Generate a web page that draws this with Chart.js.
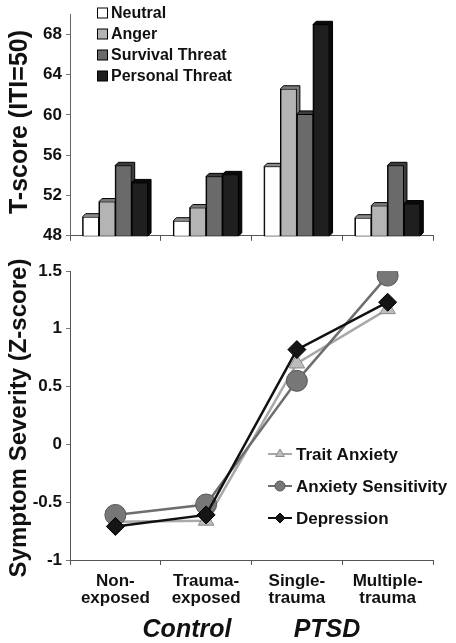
<!DOCTYPE html>
<html>
<head>
<meta charset="utf-8">
<script src="https://cdn.jsdelivr.net/npm/chart.js@4/dist/chart.umd.min.js"></script>
<style>
  html,body{margin:0;padding:0;background:#fff;}
  #wrap{position:relative;width:456px;height:643px;background:#fff;overflow:hidden;font-family:"Liberation Sans",Arial,sans-serif;}
  canvas{position:absolute;left:0;}
  .ytitle{position:absolute;font-weight:bold;color:#111;white-space:nowrap;transform:translate(-50%,-50%) rotate(-90deg);}
  .grp{position:absolute;font-weight:bold;font-style:italic;font-size:25px;color:#111;white-space:nowrap;transform:translate(-50%,-50%);}
</style>
</head>
<body>
<div id="wrap">
  <canvas id="topChart" width="456" height="250" style="top:0"></canvas>
  <canvas id="botChart" width="456" height="393" style="top:250px"></canvas>
  <div class="ytitle" style="left:18px;top:122px;font-size:25px">T-score (ITI=50)</div>
  <div class="ytitle" style="left:18px;top:418px;font-size:24px">Symptom Severity (Z-score)</div>
  <div class="grp" style="left:187px;top:628px">Control</div>
  <div class="grp" style="left:327px;top:628px">PTSD</div>
</div>
<script>
// ---- data ----
const groups = [["Non-", "exposed"], ["Trauma-", "exposed"], ["Single-", "trauma"], ["Multiple-", "trauma"]];
const emotionLabels = ["Neutral", "Anger", "Survival Threat", "Personal Threat"];
const neutral = [49.9, 49.5, 54.9, 49.8];
const anger = [51.4, 50.8, 62.6, 51.0];
const survivalThreat = [55.0, 53.9, 60.1, 55.0];
const personalThreat = [53.3, 54.1, 69.0, 51.2];
const tScoreTicks = [48, 52, 56, 60, 64, 68];

const symptomLabels = ["Trait Anxiety", "Anxiety Sensitivity", "Depression"];
const traitAnxiety = [-0.67, -0.66, 0.70, 1.17];
const anxietySensitivity = [-0.61, -0.52, 0.55, 1.46];
const depression = [-0.71, -0.61, 0.82, 1.23];
const zScoreTicks = [-1, -0.5, 0, 0.5, 1, 1.5];

// ---- styles ----
const FONT = '"Liberation Sans", Arial, sans-serif';
const barFill = ['#ffffff', '#b4b4b4', '#6a6a6a', '#1f1f1f'];
const barDepth = ['#8a8a8a', '#7a7a7a', '#3c3c3c', '#0a0a0a'];

const bar3d = {
  id: 'bar3d',
  beforeDatasetsDraw(chart) {
    const ctx = chart.ctx, d = 3;
    const bottom = chart.chartArea.bottom;
    chart.data.datasets.forEach((ds, i) => {
      const meta = chart.getDatasetMeta(i);
      meta.data.forEach(el => {
        const p = el.getProps(['x', 'y', 'base', 'width'], true);
        const base = Math.min(p.base, bottom);
        const x0 = p.x - p.width / 2, x1 = p.x + p.width / 2;
        ctx.save();
        ctx.fillStyle = barDepth[i];
        ctx.strokeStyle = '#000';
        ctx.lineWidth = 1;
        ctx.beginPath();
        ctx.moveTo(x0, p.y);
        ctx.lineTo(x0 + d, p.y - d);
        ctx.lineTo(x1 + d, p.y - d);
        ctx.lineTo(x1 + d, base - d);
        ctx.lineTo(x1, base);
        ctx.lineTo(x0, base);
        ctx.closePath();
        ctx.fill();
        ctx.stroke();
        ctx.restore();
      });
    });
  }
};

const barLegend = {
  id: 'barLegend',
  afterDraw(chart) {
    const ctx = chart.ctx;
    ctx.save();
    ctx.font = 'bold 16px ' + FONT;
    ctx.textBaseline = 'middle';
    chart.data.datasets.forEach((ds, i) => {
      const y = 13 + i * 21;
      ctx.fillStyle = ds.backgroundColor;
      ctx.strokeStyle = '#000';
      ctx.lineWidth = 1;
      ctx.fillRect(97.5, y - 5, 10, 10);
      ctx.strokeRect(97.5, y - 5, 10, 10);
      ctx.fillStyle = '#111';
      ctx.fillText(ds.label, 111, y + 1);
    });
    ctx.restore();
  }
};

const lineLegend = {
  id: 'lineLegend',
  afterDraw(chart) {
    const ctx = chart.ctx;
    ctx.save();
    ctx.font = 'bold 17px ' + FONT;
    ctx.textBaseline = 'middle';
    chart.data.datasets.forEach((ds, i) => {
      const y = 204 + i * 32;
      ctx.strokeStyle = ds.borderColor;
      ctx.lineWidth = 2;
      ctx.beginPath();
      ctx.moveTo(268, y);
      ctx.lineTo(292, y);
      ctx.stroke();
      ctx.fillStyle = ds.pointBackgroundColor;
      ctx.strokeStyle = ds.pointBorderColor;
      ctx.lineWidth = 1;
      Chart.helpers.drawPoint(ctx, {pointStyle: ds.pointStyle, radius: 5, rotation: 0, borderWidth: 1}, 280, y);
      ctx.fillStyle = '#111';
      ctx.fillText(ds.label, 296, y + 1);
    });
    ctx.restore();
  }
};

const barSeries = [neutral, anger, survivalThreat, personalThreat];

new Chart(document.getElementById('topChart'), {
  type: 'bar',
  data: {
    labels: groups,
    datasets: barSeries.map((vals, i) => ({
      label: emotionLabels[i],
      data: vals,
      backgroundColor: barFill[i],
      borderColor: '#000',
      borderWidth: 1,
      borderSkipped: false,
      categoryPercentage: 0.72,
      barPercentage: 1.0
    }))
  },
  options: {
    responsive: false,
    animation: false,
    layout: {padding: {top: 12, right: 23, left: 0, bottom: 0}},
    plugins: {legend: {display: false}, tooltip: {enabled: false}},
    scales: {
      x: {
        ticks: {display: false},
        grid: {drawOnChartArea: false, offset: true, tickLength: 5, color: '#555'},
        border: {display: true, color: '#555', width: 1},
        afterFit(s) { s.height = 12; }
      },
      y: {
        min: 48, max: 70,
        afterBuildTicks(s) { s.ticks = tScoreTicks.map(v => ({value: v})); },
        ticks: {color: '#111', font: {family: FONT, size: 17, weight: 'bold'}, padding: 4},
        grid: {drawOnChartArea: false, tickLength: 4, color: '#777'},
        border: {display: true, color: '#666', width: 1},
        afterFit(s) { s.width = 70; }
      }
    }
  },
  plugins: [bar3d, barLegend]
});

const lineSeries = [
  {label: symptomLabels[0], data: traitAnxiety, line: '#a9a9a9', fill: '#bcbcbc', edge: '#8a8a8a', style: 'triangle', r: 9, order: 3},
  {label: symptomLabels[1], data: anxietySensitivity, line: '#6e6e6e', fill: '#777777', edge: '#555555', style: 'circle', r: 10.5, order: 2},
  {label: symptomLabels[2], data: depression, line: '#111111', fill: '#151515', edge: '#000000', style: 'rectRot', r: 9, order: 1}
];

new Chart(document.getElementById('botChart'), {
  type: 'line',
  data: {
    labels: groups,
    datasets: lineSeries.map(s => ({
      label: s.label,
      data: s.data,
      borderColor: s.line,
      borderWidth: 2.5,
      pointStyle: s.style,
      pointRadius: s.r,
      pointBackgroundColor: s.fill,
      pointBorderColor: s.edge,
      pointBorderWidth: 1,
      tension: 0,
      order: s.order
    }))
  },
  options: {
    responsive: false,
    animation: false,
    layout: {padding: {top: 21, right: 23, left: 0, bottom: 0}},
    plugins: {legend: {display: false}, tooltip: {enabled: false}},
    scales: {
      x: {
        offset: true,
        ticks: {color: '#111', font: {family: FONT, size: 17, weight: 'bold', lineHeight: 1.0}, padding: 8, maxRotation: 0, autoSkip: false},
        grid: {drawOnChartArea: false, offset: true, tickLength: 5, color: '#555'},
        border: {display: true, color: '#555', width: 1},
        afterFit(s) { s.height = 83; }
      },
      y: {
        min: -1, max: 1.5,
        afterBuildTicks(s) { s.ticks = zScoreTicks.map(v => ({value: v})); },
        ticks: {color: '#111', font: {family: FONT, size: 17, weight: 'bold'}, padding: 4, callback: v => String(v)},
        grid: {drawOnChartArea: false, tickLength: 4, color: '#777'},
        border: {display: true, color: '#555', width: 1},
        afterFit(s) { s.width = 70; }
      }
    }
  },
  plugins: [lineLegend]
});
</script>
</body>
</html>
